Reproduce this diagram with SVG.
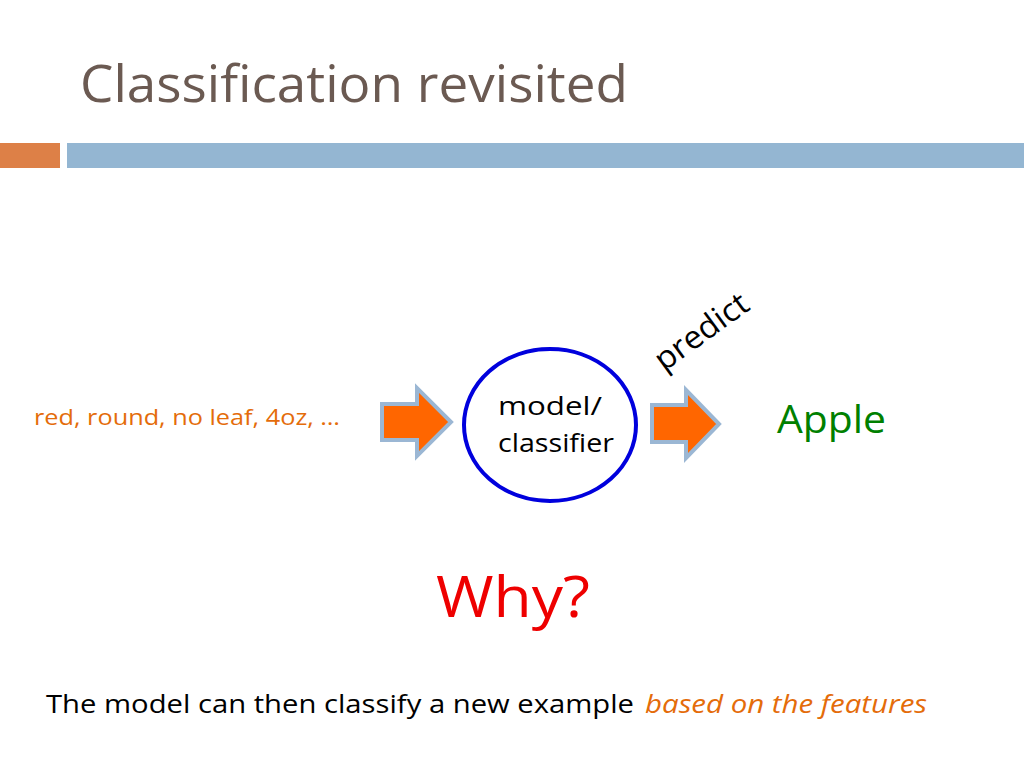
<svg xmlns="http://www.w3.org/2000/svg" width="1024" height="768" viewBox="0 0 1024 768">
<style>
text{font-family:"Open Sans","Liberation Sans",sans-serif}
.arr{fill:#ff6600;stroke:#9bb7d4;stroke-width:4}
</style>
<rect width="1024" height="768" fill="#fff"/>
<text x="80" y="102" font-size="52" fill="#6b5a52" textLength="548" lengthAdjust="spacingAndGlyphs">Classification revisited</text>
<rect x="0" y="143" width="60" height="25" fill="#dd8047"/>
<rect x="67" y="143" width="957" height="25" fill="#94b6d2"/>
<text x="34" y="425" font-size="21" fill="#e46c0a" textLength="306" lengthAdjust="spacingAndGlyphs">red, round, no leaf, 4oz, …</text>
<g id="connectors">
<polygon class="arr" points="382,404 417,404 417,388 451,422 417,456 417,440 382,440"/>
<polygon class="arr" points="652,405 686,405 686,390 719,424 686,458 686,442 652,442"/>
</g>
<g id="model">
<ellipse cx="550" cy="425" rx="86" ry="76" fill="#fff" stroke="#0000dd" stroke-width="4"/>
<text x="498" y="415" font-size="25" fill="#000" textLength="104" lengthAdjust="spacingAndGlyphs">model/</text>
<text x="498" y="452" font-size="25" fill="#000" textLength="116" lengthAdjust="spacingAndGlyphs">classifier</text>
</g>
<text x="0" y="0" font-size="32" fill="#000" transform="translate(664,372) rotate(-36)" textLength="108" lengthAdjust="spacingAndGlyphs">predict</text>
<text x="777" y="433" font-size="38" fill="#008000" textLength="109" lengthAdjust="spacingAndGlyphs">Apple</text>
<text x="436" y="617" font-size="56" fill="#ee0000" textLength="154" lengthAdjust="spacingAndGlyphs">Why?</text>
<text x="46" y="713" font-size="26" fill="#000" textLength="588" lengthAdjust="spacingAndGlyphs">The model can then classify a new example</text>
<text x="645" y="713" font-size="26" fill="#e46c0a" font-style="italic" textLength="282" lengthAdjust="spacingAndGlyphs">based on the features</text>
</svg>
